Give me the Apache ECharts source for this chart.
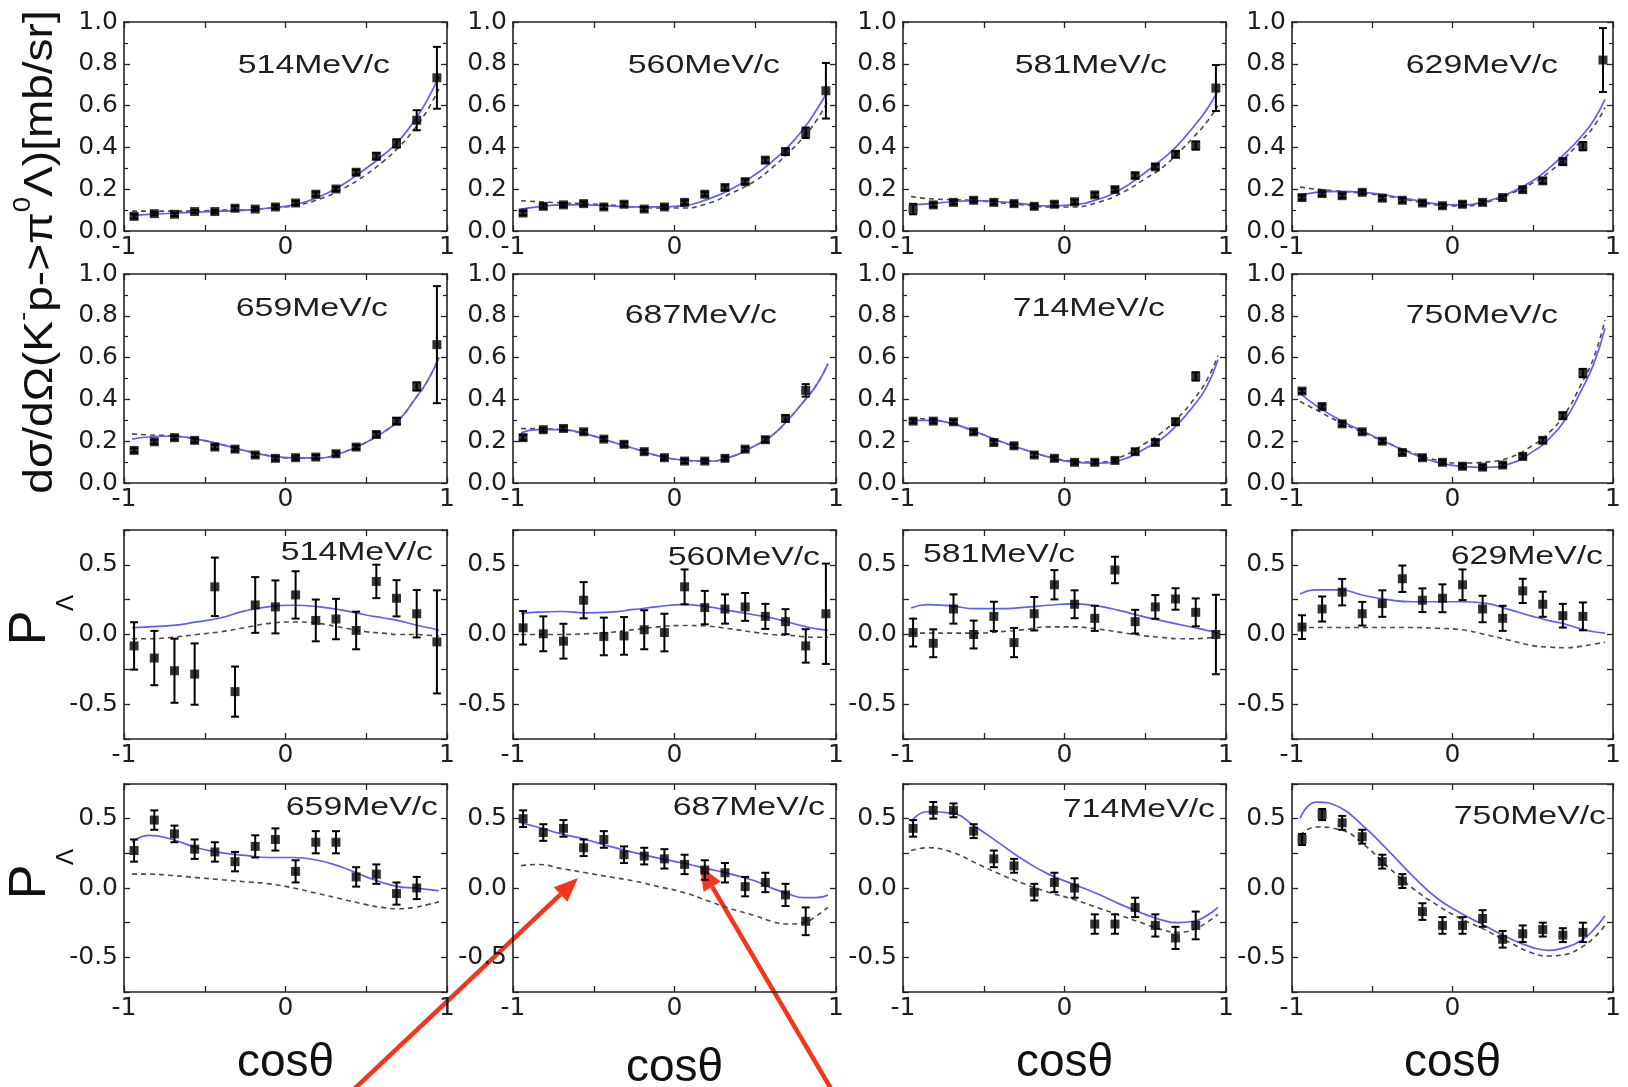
<!DOCTYPE html>
<html><head><meta charset="utf-8">
<script src="https://cdn.jsdelivr.net/npm/echarts@6/dist/echarts.min.js"></script>
<style>html,body{margin:0;padding:0;background:#fff}#c{width:1628px;height:1087px}</style>
</head><body><div id="c"></div>
<script>
// ---------- DATA ----------
const binX = [-0.9375,-0.8125,-0.6875,-0.5625,-0.4375,-0.3125,-0.1875,-0.0625,0.0625,0.1875,0.3125,0.4375,0.5625,0.6875,0.8125,0.9375];
const curveX = [-0.95,-0.85,-0.7,-0.55,-0.4,-0.25,-0.1,0.05,0.2,0.35,0.5,0.6,0.7,0.8,0.88,0.95];
const momenta = ['514','560','581','629','659','687','714','750'];

// differential cross sections [mb/sr]
const cs514 = [0.07,0.083,0.08,0.093,0.093,0.109,0.105,0.115,0.134,0.176,0.201,0.281,0.358,0.419,0.53,0.733];
const cs514Err = [0.01,0.008,0.008,0.008,0.008,0.01,0.008,0.01,0.01,0.01,0.01,0.012,0.015,0.02,0.048,0.148];
const cs514Fit = [0.075,0.08,0.085,0.09,0.095,0.1,0.11,0.125,0.16,0.22,0.3,0.36,0.43,0.53,0.63,0.74];
const cs514Alt = [0.095,0.095,0.095,0.095,0.1,0.1,0.11,0.12,0.15,0.2,0.27,0.33,0.4,0.49,0.58,0.68];

const cs560 = [0.086,0.118,0.125,0.131,0.115,0.128,0.105,0.115,0.137,0.176,0.208,0.236,0.339,0.38,0.47,0.671];
const cs560Err = [0.01,0.01,0.01,0.01,0.01,0.01,0.01,0.01,0.01,0.01,0.012,0.012,0.012,0.015,0.025,0.133];
const cs560Fit = [0.105,0.115,0.125,0.125,0.12,0.115,0.115,0.12,0.15,0.2,0.27,0.33,0.4,0.49,0.58,0.67];
const cs560Alt = [0.145,0.14,0.135,0.13,0.125,0.115,0.11,0.11,0.13,0.18,0.24,0.3,0.37,0.45,0.53,0.62];

const cs581 = [0.105,0.125,0.137,0.147,0.137,0.131,0.118,0.128,0.14,0.173,0.198,0.265,0.307,0.367,0.409,0.684];
const cs581Err = [0.025,0.01,0.01,0.01,0.01,0.01,0.01,0.01,0.01,0.01,0.01,0.012,0.012,0.015,0.02,0.11];
const cs581Fit = [0.125,0.13,0.14,0.145,0.14,0.13,0.12,0.125,0.15,0.2,0.28,0.34,0.41,0.5,0.58,0.67];
const cs581Alt = [0.165,0.155,0.15,0.145,0.135,0.125,0.115,0.115,0.135,0.18,0.25,0.3,0.37,0.45,0.52,0.6];

const cs629 = [0.16,0.179,0.169,0.185,0.157,0.147,0.134,0.121,0.128,0.137,0.16,0.198,0.24,0.332,0.406,0.818];
const cs629Err = [0.01,0.01,0.01,0.01,0.01,0.01,0.01,0.01,0.01,0.01,0.01,0.01,0.012,0.015,0.02,0.153];
const cs629Fit = [0.17,0.185,0.19,0.185,0.17,0.15,0.13,0.125,0.14,0.18,0.24,0.3,0.37,0.45,0.53,0.63];
const cs629Alt = [0.21,0.2,0.19,0.18,0.165,0.145,0.125,0.12,0.135,0.175,0.23,0.28,0.35,0.43,0.5,0.59];

const cs659 = [0.156,0.197,0.217,0.204,0.172,0.162,0.134,0.118,0.121,0.124,0.14,0.172,0.232,0.296,0.462,0.662];
const cs659Err = [0.01,0.01,0.01,0.01,0.01,0.01,0.01,0.01,0.01,0.01,0.01,0.01,0.012,0.015,0.02,0.28];
const cs659Fit = [0.21,0.22,0.225,0.21,0.185,0.155,0.13,0.12,0.12,0.145,0.195,0.24,0.3,0.4,0.49,0.6];
const cs659Alt = [0.235,0.23,0.225,0.21,0.185,0.155,0.13,0.12,0.12,0.145,0.195,0.24,0.3,0.4,0.49,0.6];

const cs687 = [0.217,0.255,0.261,0.245,0.21,0.185,0.15,0.121,0.105,0.105,0.118,0.162,0.207,0.309,0.443];
const cs687Err = [0.012,0.01,0.01,0.01,0.01,0.01,0.01,0.01,0.01,0.01,0.01,0.01,0.012,0.015,0.03];
const cs687Fit = [0.24,0.255,0.255,0.235,0.2,0.165,0.13,0.11,0.105,0.125,0.18,0.225,0.3,0.39,0.47,0.57];
const cs687Alt = [0.26,0.26,0.255,0.235,0.2,0.165,0.13,0.11,0.105,0.125,0.18,0.225,0.3,0.39,0.47,0.57];

const cs714 = [0.296,0.296,0.293,0.245,0.194,0.178,0.134,0.118,0.099,0.099,0.108,0.15,0.194,0.293,0.51];
const cs714Err = [0.01,0.01,0.01,0.01,0.01,0.01,0.01,0.01,0.01,0.01,0.01,0.012,0.012,0.015,0.02];
const cs714Fit = [0.3,0.3,0.285,0.245,0.2,0.16,0.125,0.1,0.095,0.11,0.165,0.21,0.28,0.37,0.46,0.59];
const cs714Alt = [0.31,0.305,0.285,0.245,0.2,0.16,0.125,0.105,0.1,0.125,0.19,0.24,0.31,0.4,0.49,0.61];

const cs750 = [0.44,0.366,0.283,0.245,0.2,0.146,0.121,0.099,0.08,0.076,0.086,0.127,0.204,0.322,0.526];
const cs750Err = [0.01,0.01,0.01,0.01,0.01,0.01,0.01,0.01,0.01,0.01,0.01,0.01,0.012,0.015,0.02];
const cs750Fit = [0.43,0.37,0.3,0.245,0.19,0.14,0.1,0.08,0.075,0.09,0.15,0.21,0.3,0.44,0.57,0.74];
const cs750Alt = [0.39,0.35,0.29,0.24,0.19,0.145,0.11,0.095,0.1,0.12,0.18,0.24,0.33,0.47,0.6,0.78];

// Lambda polarization
const pol514 = [-0.082,-0.169,-0.26,-0.284,0.342,-0.41,0.212,0.198,0.284,0.101,0.111,0.029,0.381,0.26,0.149,-0.053];
const pol514Err = [0.17,0.195,0.23,0.22,0.21,0.18,0.2,0.19,0.17,0.15,0.145,0.135,0.12,0.13,0.17,0.37];
const pol514Fit = [0.05,0.055,0.065,0.09,0.12,0.17,0.2,0.21,0.2,0.175,0.14,0.12,0.1,0.07,0.05,0.03];
const pol514Alt = [-0.03,-0.03,-0.02,0.0,0.02,0.05,0.08,0.09,0.08,0.05,0.02,0.01,0.0,0.0,-0.005,-0.01];

const pol560 = [0.048,0.005,-0.048,0.246,-0.014,-0.01,0.034,0.014,0.342,0.193,0.183,0.198,0.13,0.092,-0.082,0.149];
const pol560Err = [0.12,0.125,0.125,0.13,0.135,0.135,0.14,0.135,0.125,0.12,0.105,0.1,0.09,0.09,0.12,0.36];
const pol560Fit = [0.15,0.16,0.165,0.155,0.16,0.18,0.2,0.215,0.2,0.17,0.14,0.12,0.09,0.06,0.04,0.03];
const pol560Alt = [0.0,0.0,0.0,0.005,0.015,0.035,0.055,0.065,0.06,0.04,0.015,0.0,-0.005,-0.015,-0.02,-0.02];

const pol581 = [0.014,-0.063,0.183,0.0,0.13,-0.058,0.149,0.357,0.217,0.116,0.463,0.092,0.198,0.255,0.159,0.0];
const pol581Err = [0.1,0.1,0.105,0.1,0.105,0.105,0.12,0.105,0.1,0.09,0.095,0.085,0.085,0.077,0.1,0.285];
const pol581Fit = [0.19,0.215,0.205,0.185,0.185,0.195,0.21,0.22,0.205,0.17,0.125,0.1,0.075,0.05,0.03,0.015];
const pol581Alt = [0.01,0.01,0.01,0.01,0.02,0.035,0.055,0.055,0.04,0.015,-0.01,-0.02,-0.03,-0.03,-0.025,-0.02];

const pol629 = [0.053,0.183,0.304,0.149,0.222,0.4,0.246,0.26,0.357,0.183,0.116,0.313,0.217,0.135,0.13];
const pol629Err = [0.085,0.09,0.095,0.085,0.095,0.095,0.085,0.1,0.11,0.095,0.09,0.087,0.09,0.085,0.1];
const pol629Fit = [0.29,0.32,0.32,0.28,0.25,0.235,0.235,0.235,0.225,0.18,0.13,0.1,0.075,0.04,0.02,0.01];
const pol629Alt = [0.05,0.05,0.05,0.05,0.05,0.05,0.045,0.035,0.0,-0.04,-0.08,-0.09,-0.095,-0.085,-0.07,-0.055];

const pol659 = [0.27,0.49,0.39,0.28,0.26,0.19,0.30,0.35,0.12,0.33,0.33,0.08,0.10,-0.04,0.0];
const pol659Err = [0.08,0.07,0.06,0.07,0.07,0.07,0.08,0.08,0.08,0.08,0.08,0.07,0.07,0.08,0.08];
const pol659Fit = [0.33,0.38,0.35,0.29,0.255,0.235,0.22,0.22,0.2,0.15,0.08,0.04,0.01,0.0,-0.01,-0.02];
const pol659Alt = [0.1,0.1,0.09,0.075,0.06,0.045,0.03,0.0,-0.04,-0.08,-0.12,-0.14,-0.15,-0.14,-0.12,-0.1];

const pol687 = [0.50,0.40,0.43,0.29,0.35,0.24,0.23,0.21,0.17,0.13,0.11,0.01,0.04,-0.05,-0.24];
const pol687Err = [0.06,0.06,0.06,0.06,0.06,0.06,0.06,0.07,0.07,0.07,0.07,0.07,0.07,0.08,0.1];
const pol687Fit = [0.47,0.44,0.39,0.35,0.3,0.255,0.215,0.18,0.14,0.1,0.05,0.0,-0.04,-0.07,-0.07,-0.05];
const pol687Alt = [0.16,0.17,0.14,0.11,0.08,0.05,0.01,-0.03,-0.09,-0.15,-0.2,-0.24,-0.26,-0.25,-0.2,-0.14];

const pol714 = [0.43,0.56,0.56,0.41,0.21,0.16,-0.03,0.04,0.0,-0.26,-0.26,-0.14,-0.27,-0.36,-0.27];
const pol714Err = [0.06,0.06,0.05,0.05,0.06,0.05,0.06,0.07,0.07,0.07,0.07,0.07,0.08,0.08,0.1];
const pol714Fit = [0.48,0.55,0.54,0.44,0.32,0.2,0.1,0.03,-0.04,-0.12,-0.19,-0.23,-0.25,-0.24,-0.2,-0.14];
const pol714Alt = [0.27,0.29,0.26,0.18,0.1,0.03,-0.03,-0.08,-0.14,-0.2,-0.26,-0.3,-0.32,-0.3,-0.25,-0.19];

const pol750 = [0.35,0.53,0.47,0.37,0.19,0.05,-0.17,-0.27,-0.27,-0.22,-0.37,-0.33,-0.30,-0.34,-0.32];
const pol750Err = [0.04,0.04,0.05,0.05,0.05,0.05,0.06,0.06,0.06,0.06,0.06,0.06,0.05,0.05,0.07];
const pol750Fit = [0.5,0.62,0.58,0.44,0.27,0.09,-0.07,-0.18,-0.27,-0.36,-0.43,-0.45,-0.43,-0.38,-0.3,-0.2];
const pol750Alt = [0.38,0.44,0.42,0.31,0.15,0.0,-0.12,-0.22,-0.3,-0.39,-0.47,-0.49,-0.48,-0.43,-0.36,-0.27];

// ---------- LAYOUT ----------
const colLeft = [124, 513, 903, 1292];
const colW = [323, 323, 323, 321];
const rowTop = [22, 274, 530, 784];
const rowH = [209, 209, 209, 208];

const panelData = [
  [cs514,cs514Err,cs514Fit,cs514Alt],[cs560,cs560Err,cs560Fit,cs560Alt],[cs581,cs581Err,cs581Fit,cs581Alt],[cs629,cs629Err,cs629Fit,cs629Alt],
  [cs659,cs659Err,cs659Fit,cs659Alt],[cs687,cs687Err,cs687Fit,cs687Alt],[cs714,cs714Err,cs714Fit,cs714Alt],[cs750,cs750Err,cs750Fit,cs750Alt],
  [pol514,pol514Err,pol514Fit,pol514Alt],[pol560,pol560Err,pol560Fit,pol560Alt],[pol581,pol581Err,pol581Fit,pol581Alt],[pol629,pol629Err,pol629Fit,pol629Alt],
  [pol659,pol659Err,pol659Fit,pol659Alt],[pol687,pol687Err,pol687Fit,pol687Alt],[pol714,pol714Err,pol714Fit,pol714Alt],[pol750,pol750Err,pol750Fit,pol750Alt]
];
// label placement: [anchorX (from right edge unless left), centerY, align]
const labelPos = [
  [57,66,'right'],[56,66,'right'],[59,66,'right'],[55,66,'right'],
  [59,309,'right'],[59,316,'right'],[61,309,'right'],[55,316,'right'],
  [14,553,'right'],[16,558,'right'],[20,555,'left'],[10,557,'right'],
  [9,808,'right'],[11,808,'right'],[11,810,'right'],[7,817,'right']
];

const AX = '#222';
const tickFont = {fontSize:25, fontFamily:'DejaVu Sans', color:'#1e1e1e'};
const grids=[], xAxes=[], yAxes=[], series=[], graphics=[];

function near(a,b){return Math.abs(a-b)<1e-6;}
function errItem(params, api){
  const x=api.value(0), y=api.value(1), e=api.value(2);
  const t=api.coord([x,y+e]), b=api.coord([x,y-e]);
  const w=4, st={stroke:'#000',lineWidth:2};
  return {type:'group',children:[
    {type:'line',shape:{x1:t[0],y1:t[1],x2:b[0],y2:b[1]},style:st},
    {type:'line',shape:{x1:t[0]-w,y1:t[1],x2:t[0]+w,y2:t[1]},style:st},
    {type:'line',shape:{x1:b[0]-w,y1:b[1],x2:b[0]+w,y2:b[1]},style:st}
  ]};
}

for (let r=0;r<4;r++){
  for (let c=0;c<4;c++){
    const g=r*4+c, isCS = r<2;
    grids.push({left:colLeft[c], top:rowTop[r], width:colW[c], height:rowH[r], show:false});
    const xBase = {type:'value', gridIndex:g, min:-1, max:1, interval:0.5,
      axisLine:{show:true,onZero:false,lineStyle:{color:AX,width:1.6}},
      axisTick:{show:true,inside:true,length:6,lineStyle:{color:AX,width:1.3}},
      splitLine:{show:false}};
    xAxes.push(Object.assign({}, xBase, {position:'bottom',
      axisLabel:Object.assign({show:true, margin:4, showMinLabel:true, showMaxLabel:true,
        formatter:v=> near(v,-1)?'-1':near(v,0)?'0':near(v,1)?'1':''}, tickFont)}));
    xAxes.push(Object.assign({}, xBase, {position:'top', axisLabel:{show:false}}));
    let yBase;
    if (isCS){
      yBase = {type:'value', gridIndex:g, min:0, max:1, interval:0.2,
        minorTick:{show:true,splitNumber:2,length:4,lineStyle:{color:AX,width:1.2}},
        axisLine:{show:true,onZero:false,lineStyle:{color:AX,width:1.6}},
        axisTick:{show:true,inside:true,length:6,lineStyle:{color:AX,width:1.3}},
        splitLine:{show:false}, minorSplitLine:{show:false}};
      yAxes.push(Object.assign({}, yBase, {position:'left',
        axisLabel:Object.assign({show:true,margin:6,showMinLabel:true,showMaxLabel:true,formatter:v=>v.toFixed(1)}, tickFont)}));
    } else {
      yBase = {type:'value', gridIndex:g, min:-0.75, max:0.75, interval:0.25,
        axisLine:{show:true,onZero:false,lineStyle:{color:AX,width:1.6}},
        axisTick:{show:true,inside:true,length:6,lineStyle:{color:AX,width:1.3}},
        splitLine:{show:false}};
      yAxes.push(Object.assign({}, yBase, {position:'left',
        axisLabel:Object.assign({show:true,margin:6,formatter:v=> near(v,0.5)?'0.5':near(v,0)?'0.0':near(v,-0.5)?'-0.5':''}, tickFont)}));
    }
    yAxes.push(Object.assign({}, yBase, {position:'right', axisLabel:{show:false}}));

    const [vals, errs, fit, alt] = panelData[g];
    const xi=2*g, yi=2*g;
    series.push({type:'line', xAxisIndex:xi, yAxisIndex:yi, smooth:true, showSymbol:false, silent:true,
      data:curveX.map((x,i)=>[x,alt[i]]), lineStyle:{color:'#4a4a4a',width:1.6,type:[5,4]}, z:2});
    series.push({type:'line', xAxisIndex:xi, yAxisIndex:yi, smooth:true, showSymbol:false, silent:true,
      data:curveX.map((x,i)=>[x,fit[i]]), lineStyle:{color:'#5f5ff0',width:1.7}, z:3});
    series.push({type:'custom', xAxisIndex:xi, yAxisIndex:yi, renderItem:errItem, encode:{x:0,y:1},
      data:vals.map((v,i)=>[binX[i],v,errs[i]]), z:4});
    series.push({type:'scatter', xAxisIndex:xi, yAxisIndex:yi, symbol:'rect', symbolSize:9,
      itemStyle:{color:'#000'}, data:vals.map((v,i)=>[binX[i],v]), z:5});

    // panel label
    const lp = labelPos[g];
    const lx = lp[2]==='right' ? colLeft[c]+colW[c]-lp[0] : colLeft[c]+lp[0];
    graphics.push({type:'text', x:lx, y:lp[1], scaleX:1.3, silent:true,
      style:{text:momenta[g%8]+'MeV/c', fontSize:26, fontFamily:'Liberation Sans', fill:'#1e1e1e',
        align:lp[2], textAlign:lp[2], verticalAlign:'middle', textVerticalAlign:'middle'}});
  }
}

// axis titles
const colCenters = colLeft.map((l,i)=>l+colW[i]/2);
const cosY = [1063,1068,1063,1063];
colCenters.forEach((cx,i)=>graphics.push({type:'text', x:cx, y:cosY[i], silent:true,
  style:{text:'cosθ', fontSize:46, fontFamily:'Liberation Sans', fill:'#111',
    align:'center', textAlign:'center', verticalAlign:'middle', textVerticalAlign:'middle'}}));

graphics.push({type:'text', x:36, y:252, rotation:Math.PI/2, scaleX:1.15, silent:true,
  style:{text:'{a|dσ/dΩ(K}{b|-}{a|p->π}{b|0}{a|Λ)[mb/sr]}', align:'center', textAlign:'center',
    verticalAlign:'middle', textVerticalAlign:'middle',
    rich:{a:{fontSize:40,fontFamily:'Liberation Sans',fill:'#111',color:'#111',lineHeight:50,verticalAlign:'bottom'},
          b:{fontSize:24,fontFamily:'Liberation Sans',fill:'#111',color:'#111',lineHeight:50,verticalAlign:'top'}}}});

[628, 882].forEach(py=>{
  graphics.push({type:'text', x:31, y:py, rotation:Math.PI/2, silent:true,
    style:{text:'P', fontSize:52, fontFamily:'Liberation Sans', fill:'#111', align:'center', textAlign:'center', verticalAlign:'middle', textVerticalAlign:'middle'}});
  graphics.push({type:'text', x:66, y:py-25, rotation:Math.PI/2, silent:true,
    style:{text:'Λ', fontSize:24, fontFamily:'Liberation Sans', fill:'#111', align:'center', textAlign:'center', verticalAlign:'middle', textVerticalAlign:'middle'}});
});

// red annotation arrows [tailX, tailY, tipX, tipY]
const arrows = [[351,1092,578,878],[833,1092,700,866]];
arrows.forEach(a=>{
  const dx=a[2]-a[0], dy=a[3]-a[1], L=Math.hypot(dx,dy), ux=dx/L, uy=dy/L;
  const hl=24, hw=10, bx=a[2]-ux*hl, by=a[3]-uy*hl;
  graphics.push({type:'line', silent:true, shape:{x1:a[0],y1:a[1],x2:bx,y2:by}, style:{stroke:'#f2361c',lineWidth:4.5}});
  graphics.push({type:'polygon', silent:true, shape:{points:[[a[2],a[3]],[bx-uy*hw,by+ux*hw],[bx+uy*hw,by-ux*hw]]}, style:{fill:'#f2361c'}});
});

const chart = echarts.init(document.getElementById('c'), null, {renderer:'canvas'});
chart.setOption({animation:false, backgroundColor:'#fff', grid:grids, xAxis:xAxes, yAxis:yAxes, series:series, graphic:{elements:graphics}});
</script>
</body></html>
